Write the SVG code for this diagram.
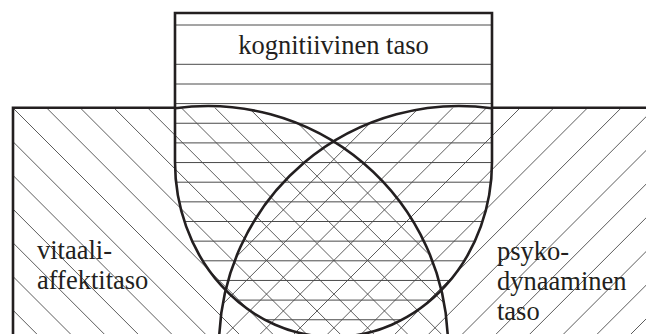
<svg xmlns="http://www.w3.org/2000/svg" width="646" height="334" viewBox="0 0 646 334">
  <style>
    .hatch line { stroke: #4a4a4a; stroke-width: 0.9; fill: none; }
    .hz line { stroke: #4a4a4a; stroke-width: 1; }
    .thick { stroke: #231f20; stroke-width: 2.6; fill: none; }
    .lbl { font-family: "Liberation Serif", Tinos, "Noto Serif", "DejaVu Serif", FreeSerif, "Nimbus Roman", "Nimbus Roman No9 L", Times, Georgia, serif; font-size: 26.5px; fill: #231f20; }
  </style>
  <defs>
    <clipPath id="clipBoxU">
      <path d="M175,13 H492 V162 A158.5,175 0 0 1 175,162 Z"/>
    </clipPath>
    <clipPath id="clipBig">
      <rect x="13" y="107.7" width="640" height="240"/>
    </clipPath>
    <clipPath id="clipLeft">
      <rect x="13" y="107.7" width="162" height="240"/>
      <circle cx="208" cy="346" r="240"/>
    </clipPath>
    <clipPath id="clipRight">
      <rect x="492" y="107.7" width="160" height="240"/>
      <circle cx="459" cy="346" r="240"/>
    </clipPath>
  </defs>
  <rect width="646" height="334" fill="#ffffff"/>

  <!-- vitaali-affektitaso hatching (\\\) -->
  <g id="vitaali-hatch" class="hatch" clip-path="url(#clipBig)">
    <g clip-path="url(#clipLeft)">
      <line x1="-197.2" y1="100" x2="42.8" y2="340"/>
      <line x1="-163.5" y1="100" x2="76.5" y2="340"/>
      <line x1="-129.8" y1="100" x2="110.2" y2="340"/>
      <line x1="-96.1" y1="100" x2="143.9" y2="340"/>
      <line x1="-62.4" y1="100" x2="177.6" y2="340"/>
      <line x1="-28.7" y1="100" x2="211.3" y2="340"/>
      <line x1="5" y1="100" x2="245" y2="340"/>
      <line x1="38.7" y1="100" x2="278.7" y2="340"/>
      <line x1="72.4" y1="100" x2="312.4" y2="340"/>
      <line x1="106.1" y1="100" x2="346.1" y2="340"/>
      <line x1="139.8" y1="100" x2="379.8" y2="340"/>
      <line x1="173.5" y1="100" x2="413.5" y2="340"/>
      <line x1="207.2" y1="100" x2="447.2" y2="340"/>
      <line x1="240.9" y1="100" x2="480.9" y2="340"/>
      <line x1="274.6" y1="100" x2="514.6" y2="340"/>
    </g>
  </g>

  <!-- psykodynaaminen taso hatching (///) -->
  <g id="psyko-hatch" class="hatch" clip-path="url(#clipBig)">
    <g clip-path="url(#clipRight)">
      <line x1="393.2" y1="100" x2="153.2" y2="340"/>
      <line x1="426.9" y1="100" x2="186.9" y2="340"/>
      <line x1="460.6" y1="100" x2="220.6" y2="340"/>
      <line x1="494.3" y1="100" x2="254.3" y2="340"/>
      <line x1="528" y1="100" x2="288" y2="340"/>
      <line x1="561.7" y1="100" x2="321.7" y2="340"/>
      <line x1="595.4" y1="100" x2="355.4" y2="340"/>
      <line x1="629.1" y1="100" x2="389.1" y2="340"/>
      <line x1="662.8" y1="100" x2="422.8" y2="340"/>
      <line x1="696.5" y1="100" x2="456.5" y2="340"/>
      <line x1="730.2" y1="100" x2="490.2" y2="340"/>
      <line x1="763.9" y1="100" x2="523.9" y2="340"/>
      <line x1="797.6" y1="100" x2="557.6" y2="340"/>
      <line x1="831.3" y1="100" x2="591.3" y2="340"/>
      <line x1="865" y1="100" x2="625" y2="340"/>
    </g>
  </g>

  <!-- kognitiivinen taso hatching (horizontal) -->
  <g id="kognitiivinen-hatch" class="hz" clip-path="url(#clipBoxU)">
    <line x1="175" y1="25" x2="492" y2="25"/>
    <line x1="175" y1="64.3" x2="492" y2="64.3"/>
    <line x1="175" y1="84" x2="492" y2="84"/>
    <line x1="175" y1="103.6" x2="492" y2="103.6"/>
    <line x1="175" y1="123.25" x2="492" y2="123.25"/>
    <line x1="175" y1="142.9" x2="492" y2="142.9"/>
    <line x1="175" y1="162.55" x2="492" y2="162.55"/>
    <line x1="175" y1="182.2" x2="492" y2="182.2"/>
    <line x1="175" y1="201.85" x2="492" y2="201.85"/>
    <line x1="175" y1="221.5" x2="492" y2="221.5"/>
    <line x1="175" y1="241.15" x2="492" y2="241.15"/>
    <line x1="175" y1="260.8" x2="492" y2="260.8"/>
    <line x1="175" y1="280.45" x2="492" y2="280.45"/>
    <line x1="175" y1="300.1" x2="492" y2="300.1"/>
    <line x1="175" y1="319.75" x2="492" y2="319.75"/>
  </g>

  <!-- outlines -->
  <g id="outlines">
    <path id="frame" class="thick" d="M13,340 V107.7 H175 M492,107.7 H650"/>
    <path id="kognitiivinen-outline" class="thick" d="M175,162 V13 H492 V162 A158.5,175 0 0 1 175,162"/>
    <path id="vitaali-circle" class="thick" d="M175,108.3 A240,240 0 0 1 447.9,340"/>
    <path id="psyko-circle" class="thick" d="M492,108.3 A240,240 0 0 0 219.1,340"/>
  </g>

  <!-- labels -->
  <g id="kognitiivinen">
    <text class="lbl" x="333.5" y="54" text-anchor="middle">kognitiivinen taso</text>
  </g>
  <g id="vitaali">
    <text class="lbl" x="37" y="259">vitaali-</text>
    <text class="lbl" x="37" y="289">affektitaso</text>
  </g>
  <g id="psykodynaaminen">
    <text class="lbl" x="497" y="260">psyko-</text>
    <text class="lbl" x="497" y="290">dynaaminen</text>
    <text class="lbl" x="497" y="319.5">taso</text>
  </g>
</svg>
